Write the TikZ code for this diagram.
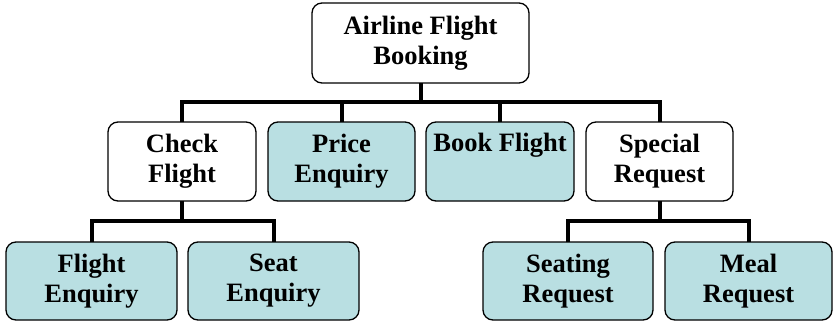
\documentclass[tikz,border=0pt]{standalone}
\usepackage{fontspec}
\setmainfont{Liberation Serif}
\definecolor{boxfill}{RGB}{185,223,226}
\begin{document}
\begin{tikzpicture}[x=1pt,y=-1pt,
  box/.style={draw=black, line width=1.3pt, rounded corners=10pt, align=center,
    font=\fontsize{26.5}{30}\selectfont\bfseries, inner sep=0pt, outer sep=0pt},
  plain/.style={box, fill=white},
  shaded/.style={box, fill=boxfill},
  link/.style={line width=4pt}
]
\useasboundingbox (0,0) rectangle (833,322);
% top level
\node[plain, minimum width=217pt, minimum height=80pt] (root) at (420.5,43) {Airline Flight\\Booking};
% second level
\node[plain, minimum width=148pt, minimum height=79pt] (check) at (182,161.5) {Check\\Flight};
\node[shaded, minimum width=147pt, minimum height=79pt] (price) at (341.5,161.5) {Price\\Enquiry};
\node[shaded, minimum width=148pt, minimum height=79pt] (book) at (500,161.5) {Book Flight\\\strut};
\node[plain, minimum width=147pt, minimum height=79pt] (special) at (659.5,161.5) {Special\\Request};
% third level
\node[shaded, minimum width=171pt, minimum height=78pt] (fenq) at (91.5,281) {Flight\\Enquiry};
\node[shaded, minimum width=171pt, minimum height=78pt] (senq) at (273.5,281) {Seat\\Enquiry};
\node[shaded, minimum width=170pt, minimum height=78pt] (seating) at (568,281) {Seating\\Request};
\node[shaded, minimum width=167pt, minimum height=78pt] (meal) at (748.5,281) {Meal\\Request};
% connectors
\coordinate (bus1) at (0,102);
\coordinate (bus2) at (0,221);
\draw[link] (root.south) -- (root.south |- bus1);
\draw[link] (check.north) |- (bus1 -| special.north) -- (special.north);
\draw[link] (price.north) -- (price.north |- bus1);
\draw[link] (book.north) -- (book.north |- bus1);
\draw[link] (check.south) -- (check.south |- bus2);
\draw[link] (fenq.north) |- (bus2 -| senq.north) -- (senq.north);
\draw[link] (special.south) -- (special.south |- bus2);
\draw[link] (seating.north) |- (bus2 -| meal.north) -- (meal.north);
\end{tikzpicture}
\end{document}
